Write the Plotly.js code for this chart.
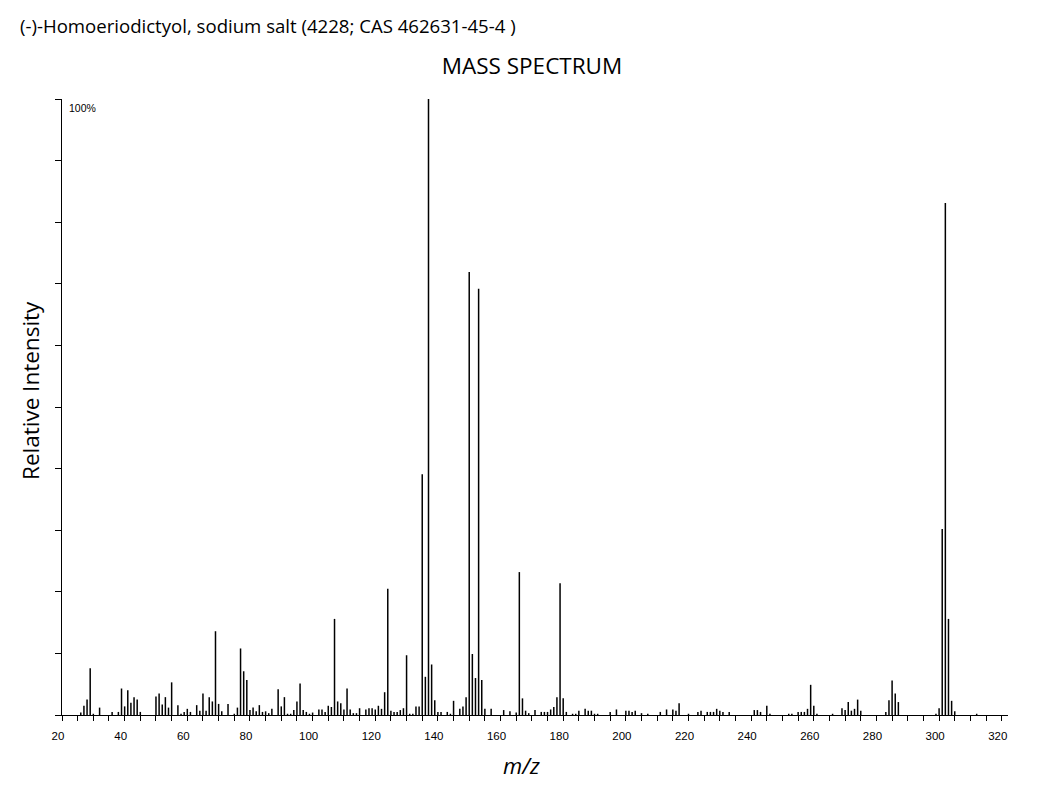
<!DOCTYPE html>
<html>
<head>
<meta charset="utf-8">
<script src="https://cdn.plot.ly/plotly-3.0.1.min.js"></script>
<style>html,body{margin:0;padding:0;background:#fff}#chart{width:1064px;height:790px}</style>
</head>
<body>
<div id="chart"></div>
<script>
const compoundTitle = "(-)-Homoeriodictyol, sodium salt (4228; CAS 462631-45-4 )";
const chartTitle = "MASS SPECTRUM";
const xLabel = "m/z";
const yLabel = "Relative Intensity";

const mz = [26,27,28,29,30,32,36,38,39,40,41,42,43,44,45,50,51,52,53,54,55,57,58,59,60,61,63,64,65,66,67,68,69,70,71,73,75,76,77,78,79,80,81,82,83,84,85,86,87,89,90,91,92,93,94,95,96,97,98,99,100,102,103,104,105,106,107,108,109,110,111,112,113,114,115,117,118,119,120,121,122,123,124,125,126,127,128,129,130,131,132,133,134,135,136,137,138,139,140,141,143,144,145,147,148,149,150,151,152,153,154,155,157,161,163,165,166,167,168,169,171,173,174,175,176,177,178,179,180,181,183,184,185,187,188,189,190,191,195,197,200,201,202,203,205,207,211,213,215,216,217,220,223,224,226,227,228,229,230,231,233,241,242,243,245,246,252,253,255,256,257,258,259,260,261,266,269,270,271,272,273,274,275,283,284,285,286,287,299,300,301,302,303,304,305,312];
const intensity = [0.4,1.5,2.5,7.6,0.2,1.2,0.5,0.5,4.3,1.4,4.0,2.0,2.9,2.5,0.5,3.0,3.5,1.7,2.9,1.2,5.3,1.6,0.2,0.5,1.0,0.5,1.6,0.7,3.5,0.7,2.9,2.2,13.6,1.8,0.6,1.8,0.2,1.2,10.8,7.1,5.7,0.8,1.2,0.6,1.6,0.5,0.6,0.3,1.0,4.2,1.4,2.9,0.2,0.2,0.8,2.2,5.1,0.8,0.5,0.2,0.4,0.9,0.9,0.5,1.5,1.3,15.6,2.2,1.9,0.9,4.3,0.9,0.3,0.3,1.1,0.9,1.1,1.1,0.9,1.5,1.0,3.7,20.5,0.7,0.5,0.5,0.8,1.1,9.7,0.2,0.2,1.4,1.4,39.1,6.2,100,8.2,2.4,0.5,0.5,0.5,0.2,2.3,1.0,1.4,2.9,71.9,9.9,6.0,69.2,5.7,1.0,1.0,0.8,0.6,0.4,23.2,2.7,0.7,0.3,0.8,0.5,0.5,0.5,0.9,1.3,2.9,21.4,2.7,0.5,0.2,0.2,0.7,1.0,0.7,0.7,0.2,0.2,0.5,0.9,0.7,0.7,0.5,0.7,0.3,0.2,0.5,0.9,0.9,0.7,1.9,0.2,0.5,0.7,0.5,0.5,0.5,1.0,0.7,0.5,0.5,0.8,0.8,0.5,1.5,0.2,0.2,0.2,0.5,0.5,0.5,1.0,4.9,1.5,0.2,0.2,1.1,0.8,2.1,0.7,1.0,2.5,0.7,0.5,2.4,5.6,3.5,2.1,0.2,1.1,30.2,83.1,15.6,2.3,0.6,0.2];

// stick spectrum built from the data arrays
const sx = [], sy = [];
mz.forEach((m, i) => { sx.push(m, m, null); sy.push(0, intensity[i], null); });

const trace = {
  x: sx, y: sy, type: 'scatter', mode: 'lines',
  line: {color: '#000', width: 1.5}, hoverinfo: 'skip', showlegend: false
};

const layout = {
  width: 1064, height: 790,
  margin: {l: 62, r: 56, t: 99, b: 75},
  paper_bgcolor: '#fff', plot_bgcolor: '#fff',
  title: {text: chartTitle, font: {family: 'Open Sans', size: 22.5, color: '#000'},
          xref: 'container', yref: 'container', x: 532/1064, y: 1 - 66/790,
          xanchor: 'center', yanchor: 'middle'},
  xaxis: {range: [20, 322], showgrid: false, zeroline: false,
          showline: true, linecolor: '#000', linewidth: 1,
          ticks: 'outside', ticklen: 5, tickcolor: '#000', tickwidth: 1,
          tick0: 20, dtick: 20, ticklabelshift: -4, ticklabelstandoff: 5,
          minor: {dtick: 5, tick0: 20, ticks: 'outside', ticklen: 5, tickcolor: '#000', tickwidth: 1},
          tickfont: {family: 'Liberation Sans, Arial', size: 11.5, color: '#000'}},
  yaxis: {range: [0, 100], showgrid: false, zeroline: false,
          showline: true, linecolor: '#000', linewidth: 1,
          ticks: 'outside', ticklen: 6, tickcolor: '#000', tickwidth: 1,
          tick0: 0, dtick: 10, showticklabels: false},
  annotations: [
    {text: compoundTitle, xref: 'paper', yref: 'paper',
     x: (18 - 62) / 946, y: (715 - 25) / 616, xanchor: 'left', yanchor: 'middle',
     showarrow: false, font: {family: 'Open Sans', size: 18.6, color: '#000'}},
    {text: yLabel, xref: 'paper', yref: 'paper', textangle: -90,
     x: (30 - 62) / 946, y: (715 - 391) / 616, xanchor: 'center', yanchor: 'middle',
     showarrow: false, font: {family: 'Open Sans', size: 22.5, color: '#000'}},
    {text: '<i>' + xLabel + '</i>', xref: 'paper', yref: 'paper',
     x: (521 - 62) / 946, y: -(765 - 715) / 616, xanchor: 'center', yanchor: 'middle',
     showarrow: false, font: {family: 'Open Sans', size: 22, color: '#000'}},
    {text: '100%', xref: 'paper', yref: 'paper',
     x: 5 / 946, y: (715 - 108) / 616, xanchor: 'left', yanchor: 'middle',
     showarrow: false, font: {family: 'Liberation Sans, Arial', size: 10.5, color: '#000'}}
  ]
};

Plotly.newPlot('chart', [trace], layout, {displayModeBar: false, staticPlot: true});
</script>
</body>
</html>
